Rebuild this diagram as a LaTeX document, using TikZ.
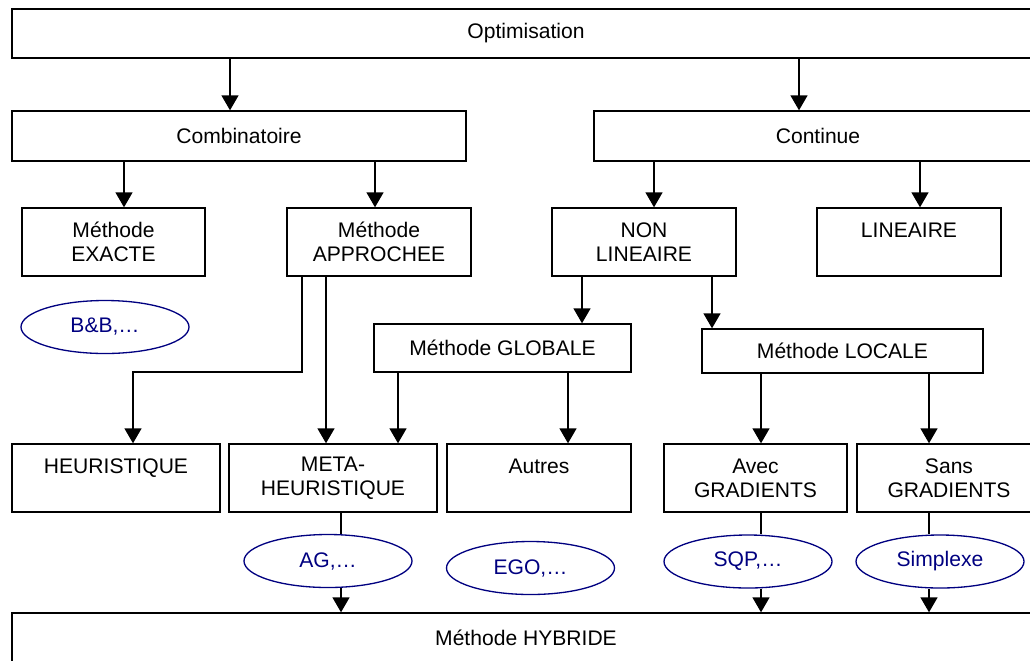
\documentclass[tikz,border=0pt]{standalone}
\usepackage{fontspec}
\setmainfont{Liberation Sans}
\usepackage{xcolor}
\usepackage{tikz}
\usetikzlibrary{arrows.meta,shapes.geometric}
\definecolor{cbleu}{HTML}{000080}
\tikzset{
  boite/.style={rectangle, draw=black, line width=0.75pt, inner sep=0pt,
    align=center, font=\fontsize{12}{13.6}\selectfont},
  taille/.style 2 args={minimum width=#1*0.02cm, minimum height=#2*0.02cm},
  bulle/.style={ellipse, draw=cbleu, text=cbleu, line width=0.75pt, inner sep=0pt,
    minimum width=168*0.02cm, minimum height=53*0.02cm, font=\fontsize{12}{13.6}\selectfont},
  fleche/.style={-{Triangle[length=8.5pt,width=9.5pt]}, line width=1.2pt},
  trait/.style={line width=1.2pt},
}

\begin{document}
\begin{tikzpicture}[x=0.02cm, y=-0.02cm]
  \useasboundingbox (0,0) rectangle (1030,660);
  \clip (0,0) rectangle (1030,660);
  \node[boite, taille={1028}{49}] (opt) at (526,33.5) {Optimisation};
  \node[boite, taille={454}{50}] (comb) at (239,136) {Combinatoire};
  \node[boite, taille={448}{50}] (cont) at (818,136) {Continue};
  \node[boite, taille={183}{68}] (exacte) at (113.5,242) {Méthode\\EXACTE};
  \node[boite, taille={184}{68}] (approchee) at (379,242) {Méthode\\APPROCHEE};
  \node[boite, taille={184}{68}] (nonlin) at (644,242) {NON\\LINEAIRE};
  \node[boite, taille={184}{68}] (lin) at (909,242) {LINEAIRE\\~};
  \node[boite, taille={257}{48}] (globale) at (502.5,348) {Méthode GLOBALE};
  \node[boite, taille={281}{44}] (locale) at (842.5,351) {Méthode LOCALE};
  \node[boite, taille={208}{68}] (heur) at (116,478) {HEURISTIQUE\\~};
  \node[boite, taille={208}{68}] (meta) at (333,478) {META-\\HEURISTIQUE};
  \node[boite, taille={184}{68}] (autres) at (539,478) {Autres\\~};
  \node[boite, taille={183}{68}] (avec) at (755.5,478) {Avec\\GRADIENTS};
  \node[boite, taille={184}{68}] (sans) at (949,478) {Sans\\GRADIENTS};
  \node[boite, taille={1028}{49}] (hyb) at (526,637.5) {Méthode HYBRIDE};

  \node[bulle] (bb) at (105,327) {B\&B,…};
  \node[bulle] (ag) at (328,561) {AG,…};
  \node[bulle] (ego) at (530.5,568) {EGO,…};
  \node[bulle] (sqp) at (748,561.5) {SQP,…};
  \node[bulle] (simplexe) at (940,561.5) {Simplexe};

  \draw[fleche] (opt.south -| 230,0) -- (comb.north -| 230,0);
  \draw[fleche] (opt.south -| 799,0) -- (cont.north -| 799,0);
  \draw[fleche] (comb.south -| 124,0) -- (exacte.north -| 124,0);
  \draw[fleche] (comb.south -| 375,0) -- (approchee.north -| 375,0);
  \draw[fleche] (cont.south -| 654,0) -- (nonlin.north -| 654,0);
  \draw[fleche] (cont.south -| 920,0) -- (lin.north -| 920,0);
  \draw[fleche] (approchee.south -| 302,0) -- (302,372) -- (133,372) -- (heur.north -| 133,0);
  \draw[fleche] (approchee.south -| 326,0) -- (meta.north -| 326,0);
  \draw[fleche] (nonlin.south -| 582,0) -- (globale.north -| 582,0);
  \draw[fleche] (nonlin.south -| 712,0) -- (locale.north -| 712,0);
  \draw[fleche] (globale.south -| 398,0) -- (meta.north -| 398,0);
  \draw[fleche] (globale.south -| 568,0) -- (autres.north -| 568,0);
  \draw[fleche] (locale.south -| 761,0) -- (avec.north -| 761,0);
  \draw[fleche] (locale.south -| 929,0) -- (sans.north -| 929,0);

  \draw[trait] (meta.south -| 341,0) -- (ag.north -| 341,0);
  \draw[fleche] (ag.south -| 341,0) -- (hyb.north -| 341,0);
  \draw[trait] (avec.south -| 761,0) -- (sqp.north -| 761,0);
  \draw[fleche] (sqp.south -| 761,0) -- (hyb.north -| 761,0);
  \draw[trait] (sans.south -| 929,0) -- (simplexe.north -| 929,0);
  \draw[fleche] (simplexe.south -| 929,0) -- (hyb.north -| 929,0);
\end{tikzpicture}
\end{document}
